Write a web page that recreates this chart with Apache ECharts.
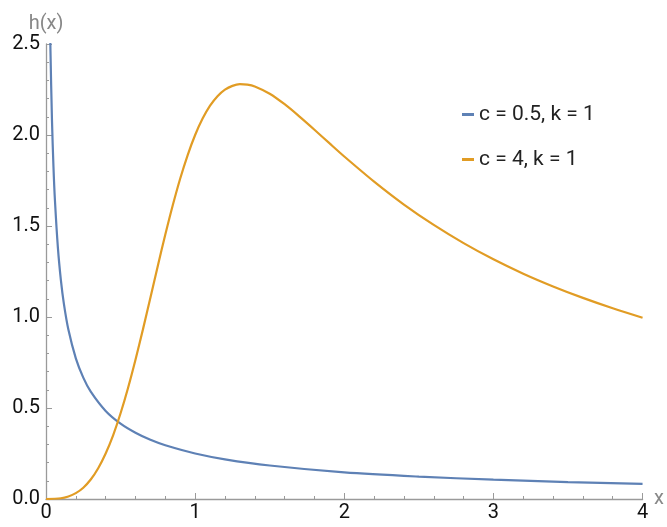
<!DOCTYPE html>
<html><head><meta charset="utf-8">
<script src="https://cdn.jsdelivr.net/npm/echarts@6/dist/echarts.min.js"></script>
<style>html,body{margin:0;padding:0;background:#fff}#c{width:667px;height:527px}</style>
</head><body><div id="c"></div>
<script>
var seriesNames = ['c = 0.5, k = 1', 'c = 4, k = 1'];
var blueX = [0.01,0.02,0.025,0.03,0.04,0.05,0.06,0.08,0.1,0.12,0.15,0.2,0.25,0.3,0.4,0.5,0.6,0.7,0.8,1.0,1.2,1.5,2.0,2.5,3.0,3.5,4.0];
var blueY = [4.545,3.098,2.731,2.461,2.083,1.827,1.640,1.378,1.201,1.072,0.931,0.773,0.667,0.590,0.484,0.414,0.364,0.325,0.295,0.250,0.218,0.184,0.146,0.123,0.106,0.093,0.083];
var orangeX = [0,0.1,0.15,0.2,0.25,0.3,0.35,0.4,0.45,0.5,0.55,0.6,0.65,0.7,0.75,0.8,0.85,0.9,0.95,1.0,1.05,1.1,1.15,1.2,1.25,1.3,1.35,1.4,1.5,1.6,1.7,1.8,1.9,2.0,2.2,2.4,2.6,2.8,3.0,3.2,3.4,3.6,3.8,4.0];
var orangeY = [0,0.004,0.0135,0.032,0.062,0.107,0.169,0.250,0.350,0.471,0.610,0.765,0.932,1.106,1.282,1.453,1.614,1.761,1.890,2.000,2.090,2.161,2.213,2.249,2.270,2.279,2.277,2.267,2.227,2.169,2.101,2.029,1.955,1.882,1.744,1.618,1.506,1.406,1.317,1.238,1.168,1.105,1.048,0.996];
var xTicks = [0,1,2,3,4];
var yTicks = [0.0,0.5,1.0,1.5,2.0,2.5];

function pairs(xs, ys){ return xs.map(function(x,i){return [x, ys[i]];}); }

var font = 'Roboto, "Liberation Sans", sans-serif';
var axisColor = '#9a9a9a';
var chart = echarts.init(document.getElementById('c'), null, {renderer:'canvas'});
chart.setOption({
  animation:false,
  grid:{left:46, right:20, top:44, bottom:28, containLabel:false},
  legend:{
    orient:'vertical', left:457, top:99, itemGap:24,
    itemWidth:12, itemHeight:3, icon:'rect',
    textStyle:{fontFamily:font, fontSize:21, color:'#222'},
    data:seriesNames
  },
  xAxis:{
    type:'value', min:0, max:4, interval:1,
    name:'x', nameLocation:'end', nameGap:7,
    nameTextStyle:{fontFamily:font, fontSize:20, color:'#888', verticalAlign:'middle'},
    axisLine:{show:true, lineStyle:{color:axisColor, width:1.3}},
    axisTick:{show:true, inside:true, length:6, lineStyle:{color:axisColor}},
    minorTick:{show:true, splitNumber:5, length:3, lineStyle:{color:axisColor}},
    splitLine:{show:false},
    axisLabel:{fontFamily:font, fontSize:20, color:'#111', margin:4,
      formatter:function(v){ return xTicks.indexOf(v)>=0 ? String(v) : ''; }}
  },
  yAxis:{
    type:'value', min:0, max:2.5, interval:0.5,
    name:'h(x)', nameLocation:'end', nameGap:10,
    nameTextStyle:{fontFamily:font, fontSize:20, color:'#888', align:'center'},
    axisLine:{show:true, lineStyle:{color:axisColor, width:1.3}},
    axisTick:{show:true, inside:true, length:6, lineStyle:{color:axisColor}},
    minorTick:{show:true, splitNumber:5, length:3, lineStyle:{color:axisColor}},
    splitLine:{show:false},
    axisLabel:{fontFamily:font, fontSize:20, color:'#111', margin:6,
      formatter:function(v){ var t = yTicks.filter(function(a){return Math.abs(a-v)<1e-9;}); return t.length ? t[0].toFixed(1) : ''; }}
  },
  series:[
    {name:seriesNames[0], type:'line', data:pairs(blueX, blueY), showSymbol:false, smooth:0.3, clip:true,
      color:'#5E81B5', lineStyle:{width:2.2, color:'#5E81B5'}},
    {name:seriesNames[1], type:'line', data:pairs(orangeX, orangeY), showSymbol:false, smooth:0.3, clip:true,
      color:'#E19C24', lineStyle:{width:2.2, color:'#E19C24'}}
  ]
});
</script></body></html>
